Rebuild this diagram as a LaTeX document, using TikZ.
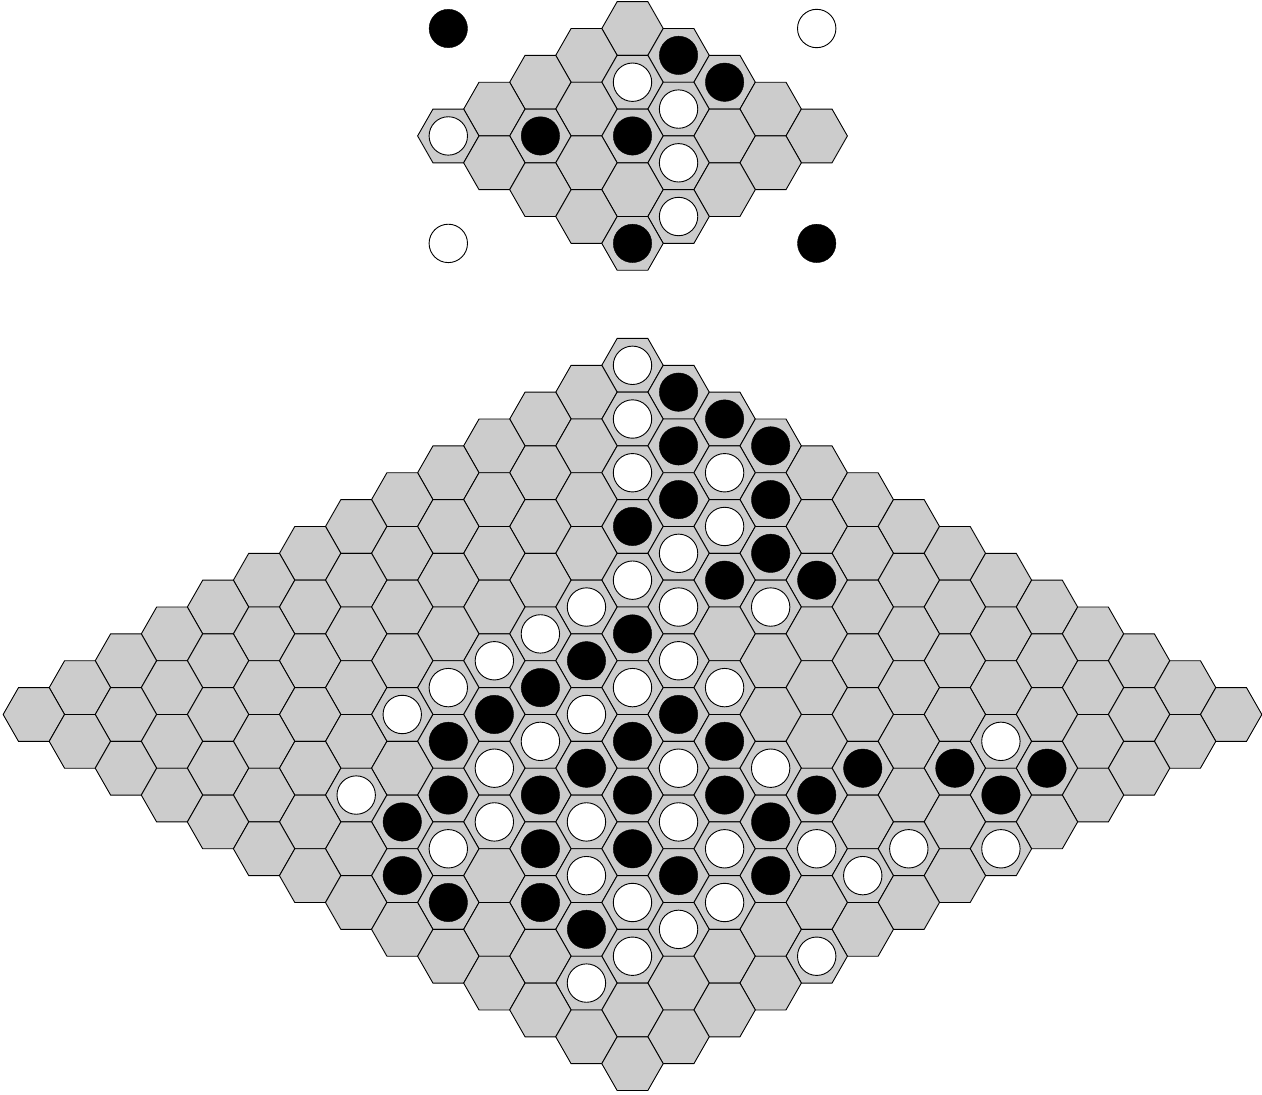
\documentclass[tikz,border=0pt]{standalone}
\definecolor{cellgray}{HTML}{CCCCCC}
\tikzset{
  hexcell/.style={fill=cellgray,draw=black,line width=0.9pt,line join=miter},
  bstone/.style={fill=black},
  wstone/.style={fill=white,draw=black,line width=0.9pt},
}
\newcommand\hexcellat[2]{\draw[hexcell] (#1-30.7,#2) -- ++(15.35,-26.86) -- ++(30.7,0) -- ++(15.35,26.86) -- ++(-15.35,26.86) -- ++(-30.7,0) -- cycle;}
% board: x0, y0, n-1
\newcommand\hexboard[3]{%
  \foreach \a in {0,...,#3}{\foreach \b in {0,...,#3}{%
    \pgfmathsetmacro\cx{#1+46.05*(\a-\b)}\pgfmathsetmacro\cy{#2+26.86*(\a+\b)}%
    \hexcellat{\cx}{\cy}}}}
% stones: x0, y0, style, list
\newcommand\stones[4]{%
  \foreach \a/\b in {#4}{%
    \pgfmathsetmacro\cx{#1+46.05*(\a-\b)}\pgfmathsetmacro\cy{#2+26.86*(\a+\b)}%
    \draw[#3] (\cx,\cy) circle[radius=19.2];}}
\begin{document}
\begin{tikzpicture}[x=1pt,y=-1pt]
\useasboundingbox (0,0) rectangle (1262,1095);
% ---- small board ----
\hexboard{632.5}{28.5}{4}
\stones{632.5}{28.5}{bstone}{1/0,2/0,1/3,2/2,4/4}
\stones{632.5}{28.5}{wstone}{1/1,2/1,0/4,3/2,4/3}
\draw[bstone] (448.3,28.5) circle[radius=19.2];
\draw[wstone] (816.7,28.5) circle[radius=19.2];
\draw[wstone] (448.3,243.4) circle[radius=19.2];
\draw[bstone] (816.7,243.4) circle[radius=19.2];
% ---- large board ----
\hexboard{632.5}{365.3}{13}
\stones{632.5}{365.3}{bstone}{1/0,2/0,2/1,3/0,3/2,4/1,3/3,5/2,5/3,6/2,5/5,5/6,5/7,5/8,7/6,5/9,7/7,8/6,7/8,10/5,11/4,12/3,6/10,7/9,8/8,9/7,10/6,12/4,6/11,10/7,8/10,9/9,7/12,10/9,11/8,8/12,9/11,10/11}
\stones{632.5}{365.3}{wstone}{0/0,1/1,2/2,3/1,4/2,4/3,4/4,4/5,5/4,6/3,4/6,4/7,6/5,4/8,6/6,7/5,4/9,6/7,6/8,11/3,6/9,8/7,9/6,5/11,7/10,8/9,9/8,7/11,10/8,11/7,12/6,13/5,9/10,12/7,10/10,11/9,11/10,11/11,13/9,11/12}
\end{tikzpicture}
\end{document}
